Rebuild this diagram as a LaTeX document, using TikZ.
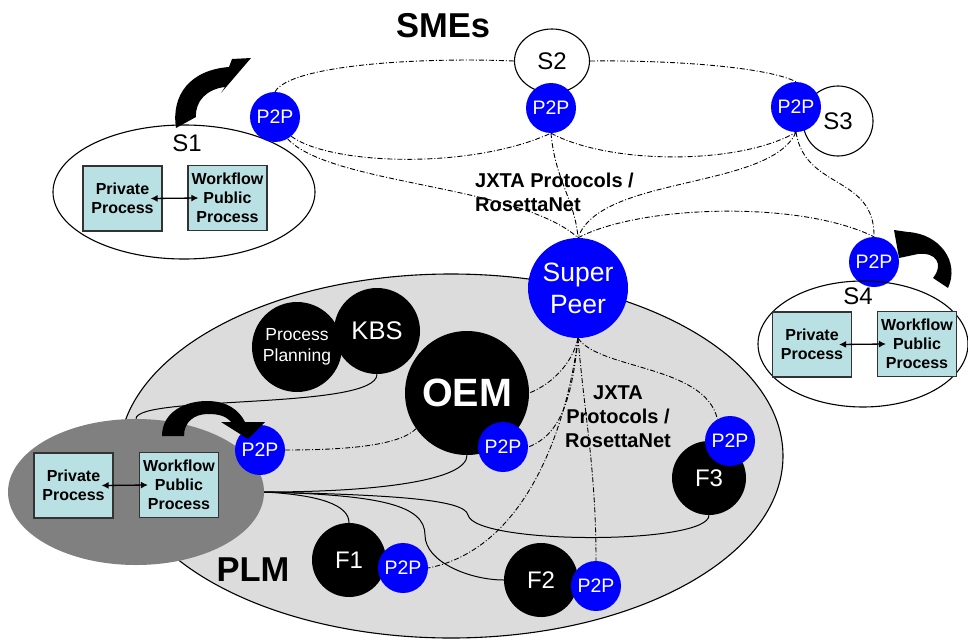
\documentclass[tikz,border=0pt]{standalone}
\usepackage{fontspec}
\setmainfont{Liberation Sans}
\usetikzlibrary{shapes.geometric,arrows.meta}
\definecolor{boxc}{HTML}{B9E0E2}
\definecolor{plmg}{HTML}{DCDCDC}
\definecolor{darkg}{HTML}{808080}
\pgfdeclarelayer{back}
\pgfdeclarelayer{mid}
\pgfsetlayers{back,mid,main}
\newcommand{\fsz}[2]{\fontsize{#1pt}{#2pt}\selectfont}
\tikzset{
  p2p/.style={circle, fill=blue, text=white, minimum size=50pt, inner sep=0pt, font=\fsz{19.5}{22}},
  blk/.style={circle, fill=black, text=white, inner sep=0pt, align=center},
  procbox/.style={draw=black!80, fill=boxc, line width=1.2pt, minimum width=79pt, minimum height=65pt, inner sep=0pt, align=center, font=\bfseries\fsz{16}{19}},
  ell/.style={draw, ellipse, inner sep=0pt, line width=1.1pt},
  ddot/.style={dash pattern=on 5pt off 2pt on 1pt off 2pt, line width=0.9pt},
  conn/.style={line width=1pt},
  biarrow/.style={{Latex[length=7pt,width=7pt]}-{Latex[length=7pt,width=7pt]}, line width=1.3pt},
  slabel/.style={font=\fsz{24}{26}, inner sep=0pt},
  jxta/.style={font=\bfseries\fsz{20}{24}, inner sep=0pt}
}
\begin{document}
\begin{tikzpicture}[x=1pt,y=-1pt]
\useasboundingbox (0,0) rectangle (968,642);

% ---------- PLM region ----------
\begin{pgfonlayer}{back}
\node[ell, fill=plmg, minimum width=664pt, minimum height=364pt] (plm) at (451,456) {};
\end{pgfonlayer}

% ---------- nodes ----------
\node[font=\bfseries\fsz{34.5}{36}, inner sep=0pt] (smes) at (443,26) {SMEs};

% S1
\node[ell, minimum width=262pt, minimum height=134pt] (s1e) at (184,192) {};
\node[slabel] (s1l) at (187,143) {S1};
\node[procbox] (s1a) at (122.5,198.5) {Private\\Process};
\node[procbox] (s1b) at (227.5,198) {Workflow\\Public\\Process};
\node[p2p] (s1p) at (275,117) {P2P};

% S2
\node[ell, fill=white, minimum width=75pt, minimum height=64pt, font=\fsz{24}{26}] (s2) at (552,61) {S2};
\node[p2p] (s2p) at (551,108) {P2P};

% S3
\node[draw, circle, fill=white, line width=1.1pt, minimum size=70pt, inner sep=0pt, font=\fsz{24}{26}] (s3) at (838,121) {S3};
\node[p2p] (s3p) at (796,107) {P2P};

% Super peer
\node[circle, fill=blue, text=white, minimum size=100pt, inner sep=0pt, align=center, font=\fsz{26.5}{32}] (sp) at (578,288) {Super\\Peer};

% S4
\node[p2p] (s4p) at (874,262) {P2P};
\node[ell, minimum width=210pt, minimum height=126pt] (s4e) at (863,344) {};
\node[slabel] (s4l) at (858,296) {S4};
\node[procbox] (s4a) at (812,344.5) {Private\\Process};
\node[procbox] (s4b) at (917,344) {Workflow\\Public\\Process};

% PLM inner
\node[ellipse, fill=darkg, minimum width=256pt, minimum height=146pt, inner sep=0pt] (g) at (136,492) {};
\node[procbox] (pa) at (73.5,485.5) {Private\\Process};
\node[procbox] (pb) at (179,485) {Workflow\\Public\\Process};
\node[p2p] (lp) at (260,450) {P2P};

\node[blk, minimum size=90pt, font=\fsz{17.5}{21}] (pp) at (297,347) {Process\\Planning};
\node[blk, minimum size=86pt, font=\fsz{25.5}{28}] (kbs) at (377,331) {KBS};
\node[blk, minimum size=124pt, font=\bfseries\fsz{39.5}{42}] (oem) at (467,393) {OEM};
\node[p2p] (oemp) at (503,447) {P2P};

\node[blk, minimum size=74pt, font=\fsz{24}{26}] (f1) at (349,560) {F1};
\node[p2p] (f1p) at (403,568) {P2P};
\node[blk, minimum size=74pt, font=\fsz{24}{26}] (f2) at (541,580) {F2};
\node[p2p] (f2p) at (596,586) {P2P};
\node[blk, minimum size=74pt, font=\fsz{24}{26}] (f3) at (709,478) {F3};
\node[p2p] (f3p) at (730,441) {P2P};

\node[font=\bfseries\fsz{34.5}{36}, inner sep=0pt] (plml) at (253,570) {PLM};
\node[jxta, align=center] (jx2) at (618,417) {JXTA\\Protocols /\\RosettaNet};
\node[jxta, align=left, anchor=west] (jx1) at (475,192) {JXTA Protocols /\\RosettaNet};

% ---------- connectors ----------
\begin{pgfonlayer}{mid}
% SME ring
\draw[ddot] (s1p.north) .. controls (290,65) and (420,57) .. (s2.west);
\draw[ddot] (s2.east) .. controls (680,60) and (770,68) .. (s3p.north);
\draw[ddot] (s1p.-50) .. controls (330,165) and (470,170) .. (s2p.south);
\draw[ddot] (s1p.-60) .. controls (330,185) and (520,185) .. (sp.north);
\draw[ddot] (s2p.south) .. controls (555,180) and (575,200) .. (sp.north);
\draw[ddot] (s2p.south) .. controls (610,165) and (740,165) .. (s3p.south);
\draw[ddot] (s3p.south) .. controls (770,190) and (600,175) .. (sp.north);
\draw[ddot] (s3p.south) .. controls (805,190) and (875,175) .. (s4p.north);
\draw[ddot] (sp.north) .. controls (640,205) and (800,200) .. (s4p.north);
% PLM dash-dot
\draw[ddot] (sp.south) .. controls (572,365) and (550,385) .. (oem.east);
\draw[ddot] (sp.south) .. controls (572,400) and (560,435) .. (oemp.east);
\draw[ddot] (sp.south) .. controls (565,440) and (520,550) .. (f1p.east);
\draw[ddot] (sp.south) .. controls (585,420) and (596,470) .. (f2p.north);
\draw[ddot] (sp.south) .. controls (600,370) and (705,365) .. (f3p.120);
\draw[ddot] (lp.east) .. controls (350,450) and (400,445) .. (oem.215);
% solid links
\draw[conn] (g.north) .. controls (136,395) and (377,410) .. (kbs.south);
\draw[conn] (g.east) .. controls (380,492) and (467,480) .. (oem.south);
\draw[conn] (g.east) .. controls (320,495) and (349,505) .. (f1.north);
\draw[conn] (g.east) .. controls (380,495) and (425,505) .. (425,535) .. controls (425,562) and (470,580) .. (f2.west);
\draw[conn] (g.east) .. controls (400,495) and (465,500) .. (468,515) .. controls (475,545) and (709,545) .. (f3.south);
\end{pgfonlayer}

% box arrows
\draw[biarrow] ([xshift=-12pt]s1a.east) -- ([xshift=11pt]s1b.west);
\draw[biarrow] ([xshift=-13pt]s4a.east) -- ([xshift=9pt]s4b.west);
\draw[biarrow] ([xshift=-12pt]pa.east) -- ([xshift=9pt]pb.west);

% curved black arrows
\fill (176,128) .. controls (171,95) and (190,70) .. (229,67) -- (232,59) -- (251,58) -- (221,93) -- (225,87) .. controls (207,89) and (195,101) .. (196,117) -- cycle;
\fill (894,230) -- (908,232) .. controls (940,234) and (960,262) .. (948,288) -- (933,278) .. controls (944,264) and (936,252) .. (918,254) -- (899,258) -- cycle;
\fill (162,436) .. controls (162,412) and (185,401) .. (207,401) .. controls (227,401) and (239,410) .. (245,422) -- (265,422) -- (248,439) -- (221,422) -- (231,422) .. controls (226,416) and (219,414) .. (208,414) .. controls (194,414) and (184,422) .. (184,436) -- cycle;
\end{tikzpicture}
\end{document}
